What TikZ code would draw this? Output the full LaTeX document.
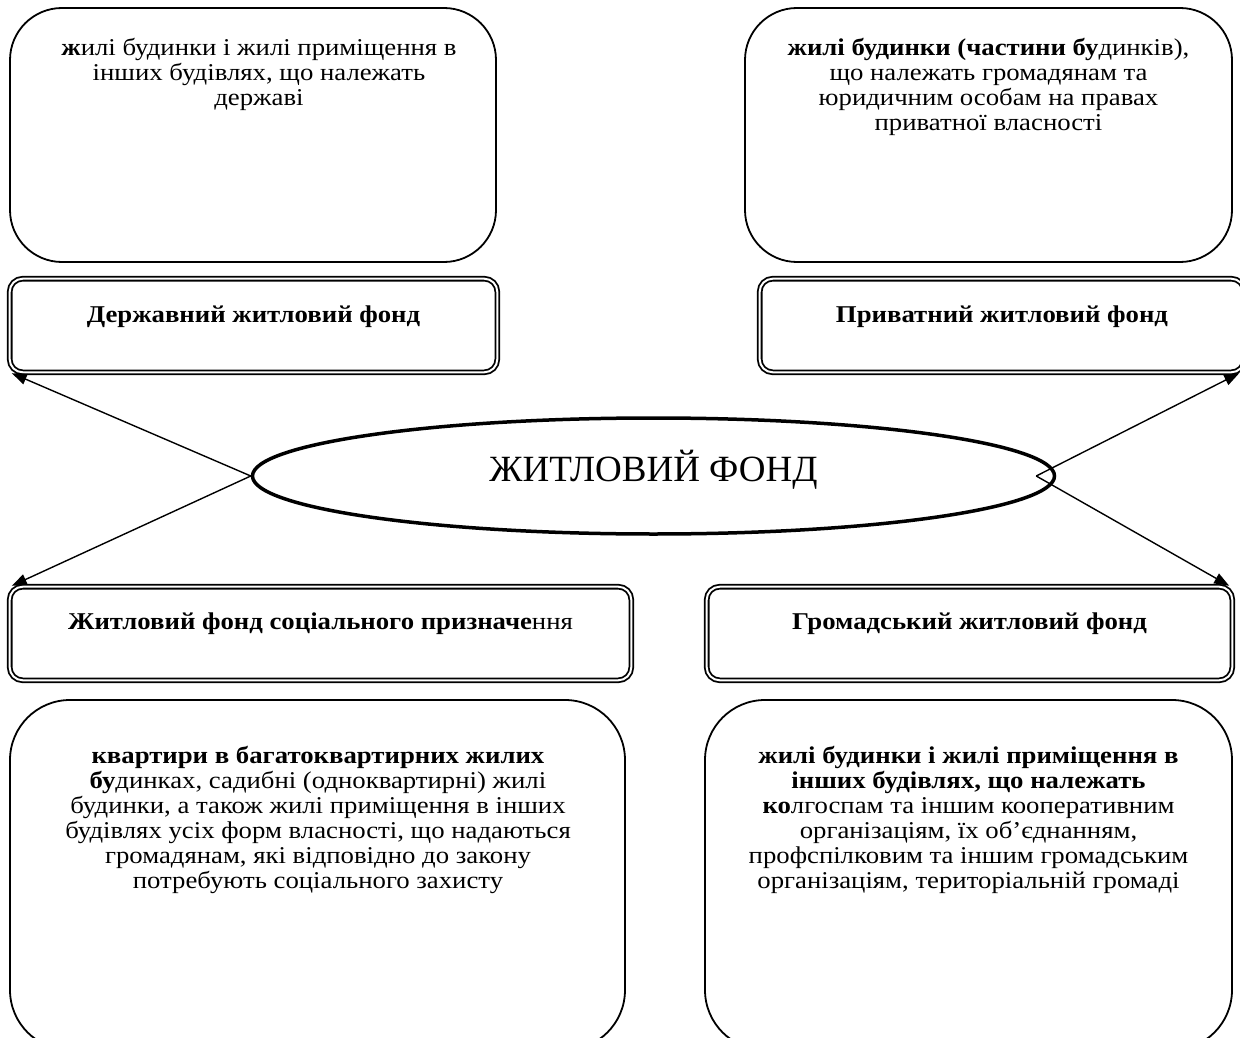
\documentclass[tikz,border=0pt]{standalone}
\usepackage{fontspec}
\setmainfont{Liberation Serif}[FakeStretch=1.11]
\newfontfamily\plainserif{Liberation Serif}
\usetikzlibrary{shapes.geometric,arrows.meta}
\begin{document}
\begin{tikzpicture}[x=1pt,y=-1pt,
  bigbox/.style={draw, line width=1.8pt, rounded corners=52pt, inner sep=0pt},
  hdrbox/.style={draw, line width=1.8pt, double=white, double distance=2pt, rounded corners=13pt, inner sep=0pt, minimum height=93.6pt},
  txt/.style={inner sep=0pt, align=center, font=\fontsize{24.1pt}{25pt}\selectfont},
  htxt/.style={inner sep=0pt, font=\fontsize{24.1pt}{25pt}\selectfont\bfseries},
  arr/.style={line width=1.4pt, -{Triangle[length=15pt,width=11pt]}}
]
\clip (0,0) rectangle (1240,1038);
% top description boxes
\node[bigbox, minimum width=486pt, minimum height=254pt] (tl) at (253,135) {};
\node[bigbox, minimum width=487pt, minimum height=254pt] (tr) at (988.5,135) {};
\node[txt, anchor=north] (tlt) at (259,38) {\textbf{ж}илі будинки і жилі приміщення в\\інших будівлях, що належать\\державі};
\node[txt, anchor=north] (trt) at (988.5,38) {\textbf{жилі будинки (частини бу}динків),\\що належать громадянам та\\юридичним особам на правах\\приватної власності};
% header boxes
\node[hdrbox, minimum width=487.6pt] (hl) at (253.5,325.5) {};
\node[hdrbox, minimum width=484.6pt] (hr) at (1002,325.5) {};
\node[hdrbox, minimum width=621.6pt] (bl) at (320.5,633.5) {};
\node[hdrbox, minimum width=525.6pt] (br) at (969.5,633.5) {};
\node[htxt, anchor=base] (hlt) at (253.5,322) {Державний житловий фонд};
\node[htxt, anchor=base] (hrt) at (1002,322) {Приватний житловий фонд};
\node[htxt, anchor=base] (blt) at (320.5,629.5) {Житловий фонд соціального призначе\mdseries ння};
\node[htxt, anchor=base] (brt) at (969.5,629.5) {Громадський житловий фонд};
% central ellipse
\node[ellipse, draw, line width=3.5pt, inner sep=0pt, minimum width=802pt, minimum height=116pt] (ell) at (653.5,476) {};
\node[inner sep=0pt, anchor=base, font=\plainserif\fontsize{37pt}{44pt}\selectfont] (ellt) at (653.5,481) {ЖИТЛОВИЙ ФОНД};
% bottom description boxes
\node[bigbox, rounded corners=60pt, minimum width=615pt, minimum height=350pt] (dl) at (317.5,875) {};
\node[bigbox, rounded corners=60pt, minimum width=527pt, minimum height=350pt] (dr) at (968.5,875) {};
\node[txt, anchor=north] (dlt) at (318,746) {\textbf{квартири в багатоквартирних жилих}\\\textbf{бу}динках, садибні (одноквартирні) жилі\\будинки, а також жилі приміщення в інших\\будівлях усіх форм власності, що надаються\\громадянам, які відповідно до закону\\потребують соціального захисту};
\node[txt, anchor=north] (drt) at (968.5,746) {\textbf{жилі будинки і жилі приміщення в}\\\textbf{інших будівлях, що належать}\\\textbf{ко}лгоспам та іншим кооперативним\\організаціям, їх об’єднанням,\\профспілковим та іншим громадським\\організаціям, територіальній громаді};
% arrows
\coordinate (rv) at ([xshift=-20pt]ell.east);
\draw[arr] (ell.west) -- ([xshift=3pt]hl.south west);
\draw[arr] (ell.west) -- ([xshift=3pt]bl.north west);
\draw[arr] (rv) -- ([xshift=-6pt]hr.south east);
\draw[arr] (rv) -- ([xshift=-4pt]br.north east);
\end{tikzpicture}
\end{document}
